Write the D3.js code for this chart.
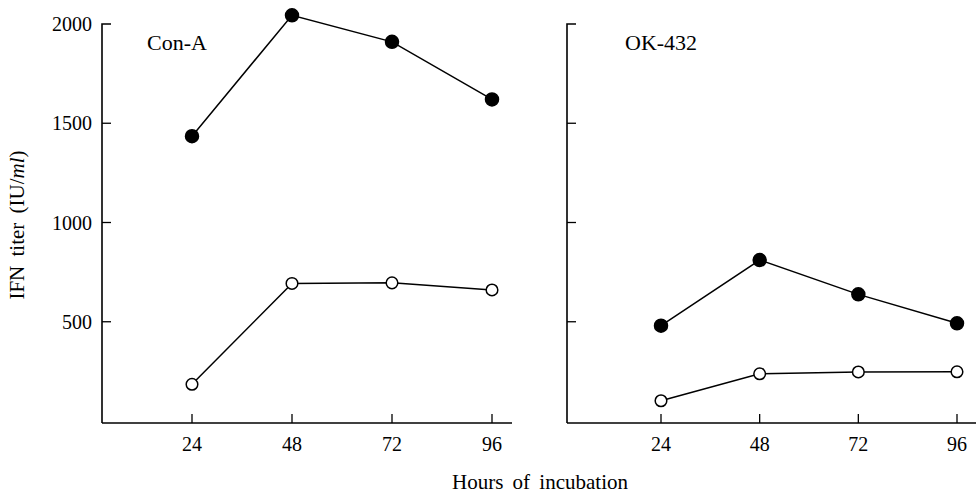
<!DOCTYPE html>
<html>
<head>
<meta charset="utf-8">
<script src="https://cdn.jsdelivr.net/npm/d3@7"></script>
<style>
  html, body { margin: 0; padding: 0; background: #fff; }
  svg text { font-family: "Liberation Serif", "DejaVu Serif", serif; fill: #000; }
</style>
</head>
<body>
<svg id="chart" width="976" height="495"></svg>
<script>
// ---- data ----
const hours = [24, 48, 72, 96];
const hourTicks = [24, 48, 72, 96];
const yTicks = [500, 1000, 1500, 2000];
const panelTitles = ["Con-A", "OK-432"];
const conAFilled = [1435, 2044, 1910, 1620];
const conAOpen = [185, 693, 696, 660];
const okFilled = [480, 811, 638, 492];
const okOpen = [102, 238, 247, 248];

const panels = [
  { title: panelTitles[0], filled: conAFilled, open: conAOpen, showLabels: true,
    axisX: 102, xEnd: 512, t0: 192, t1: 492, titleX: 147 },
  { title: panelTitles[1], filled: okFilled, open: okOpen, showLabels: false,
    axisX: 567, xEnd: 976, t0: 661, t1: 957, titleX: 625 }
];

const svg = d3.select("#chart");
const y = d3.scaleLinear().domain([0, 2000]).range([421, 24]);
const baseY = 423;

panels.forEach(p => {
  const x = d3.scaleLinear().domain([24, 96]).range([p.t0, p.t1]);
  const g = svg.append("g");

  // y axis line with top hook
  g.append("path")
    .attr("d", `M${p.axisX},${baseY} L${p.axisX},${y(2000)} L${p.axisX + 9},${y(2000)}`)
    .attr("fill", "none").attr("stroke", "#000").attr("stroke-width", 1.6);
  // y ticks (inward)
  g.selectAll(".yt").data(yTicks.slice(0, 3)).enter().append("line")
    .attr("x1", p.axisX).attr("x2", p.axisX + 9)
    .attr("y1", d => y(d)).attr("y2", d => y(d))
    .attr("stroke", "#000").attr("stroke-width", 1.3);
  if (p.showLabels) {
    g.selectAll(".yl").data(yTicks).enter().append("text")
      .attr("x", p.axisX - 10).attr("y", d => y(d) + 7)
      .attr("text-anchor", "end").attr("font-size", 20)
      .text(d => d);
  }
  // x axis
  g.append("line").attr("x1", p.axisX).attr("x2", p.xEnd)
    .attr("y1", baseY).attr("y2", baseY)
    .attr("stroke", "#000").attr("stroke-width", 1.6);
  g.selectAll(".xt").data(hourTicks).enter().append("line")
    .attr("x1", d => x(d)).attr("x2", d => x(d))
    .attr("y1", baseY).attr("y2", baseY - 9)
    .attr("stroke", "#000").attr("stroke-width", 1.3);
  g.selectAll(".xl").data(hourTicks).enter().append("text")
    .attr("x", d => x(d)).attr("y", baseY + 28)
    .attr("text-anchor", "middle").attr("font-size", 20)
    .text(d => d);

  // panel title
  g.append("text").attr("x", p.titleX).attr("y", 50)
    .attr("font-size", 22).text(p.title);

  const line = d3.line().x((d, i) => x(hours[i])).y(d => y(d));
  [p.open, p.filled].forEach((series, k) => {
    g.append("path").datum(series).attr("d", line)
      .attr("fill", "none").attr("stroke", "#000").attr("stroke-width", 1.5);
    g.selectAll(".pt" + k).data(series).enter().append("circle")
      .attr("cx", (d, i) => x(hours[i])).attr("cy", d => y(d))
      .attr("r", k === 1 ? 6.5 : 5.8)
      .attr("fill", k === 1 ? "#000" : "#fff")
      .attr("stroke", "#000").attr("stroke-width", 1.5);
  });
});

// axis titles
svg.append("text")
  .attr("transform", "translate(24,225) rotate(-90)")
  .attr("text-anchor", "middle").attr("font-size", 21)
  .attr("word-spacing", 4)
  .html('IFN titer (IU/<tspan font-style="italic">ml</tspan>)');
svg.append("text")
  .attr("x", 540).attr("y", 489)
  .attr("text-anchor", "middle").attr("font-size", 21)
  .attr("word-spacing", 4)
  .text("Hours of incubation");
</script>
</body>
</html>
